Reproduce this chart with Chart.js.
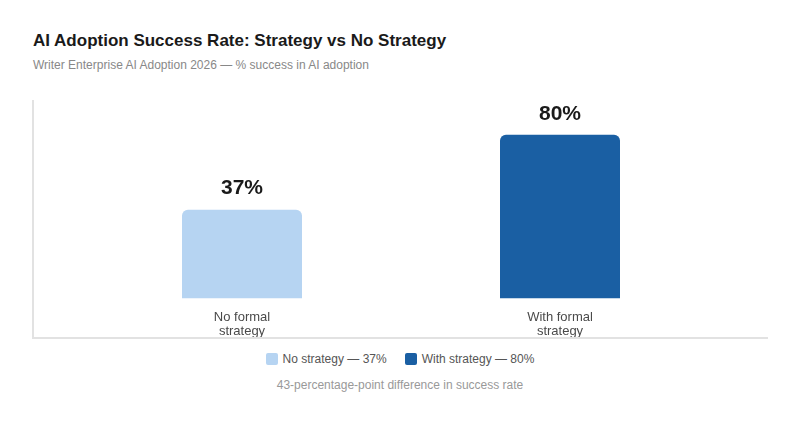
<!DOCTYPE html>
<html>
<head>
<meta charset="utf-8">
<script src="https://cdn.jsdelivr.net/npm/chart.js@4.4.1/dist/chart.umd.min.js"></script>
<style>
  html, body { margin: 0; padding: 0; background: #fff; }
  body { width: 800px; height: 440px; position: relative; font-family: "Liberation Sans", Arial, sans-serif; }
  #title { position: absolute; left: 33px; top: 31px; font-size: 17px; font-weight: bold; color: #1a1a1a; }
  #subtitle { position: absolute; left: 33px; top: 58px; font-size: 12px; color: #888; }
  #wrap { position: absolute; left: 32px; top: 100px; width: 734px; height: 237px;
          border-left: 2px solid #e2e2e2; border-bottom: 2px solid #e2e2e2; }
  #legend { position: absolute; left: 0; width: 800px; top: 352px; text-align: center; font-size: 12px; color: #555; }
  #legend span.item { display: inline-block; margin: 0 9px; }
  #legend i { display: inline-block; width: 12px; height: 12px; border-radius: 2px; vertical-align: -2px; margin-right: 5px; }
  #note { position: absolute; left: 0; width: 800px; top: 378px; text-align: center; font-size: 12px; color: #999; }
</style>
</head>
<body>
<div id="title">AI Adoption Success Rate: Strategy vs No Strategy</div>
<div id="subtitle">Writer Enterprise AI Adoption 2026 — % success in AI adoption</div>
<div id="wrap"><canvas id="chart"></canvas></div>
<div id="legend"></div>
<div id="note">43-percentage-point difference in success rate</div>
<script>
const categories = [["No formal", "strategy"], ["With formal", "strategy"]];
const successRates = [37, 80];
const barColors = ["#b6d4f2", "#1a5fa3"];
const legendLabels = ["No strategy — 37%", "With strategy — 80%"];

const legendEl = document.getElementById("legend");
legendEl.innerHTML = legendLabels.map((txt, i) =>
  `<span class="item"><i style="background:${barColors[i]}"></i>${txt}</span>`
).join("");

const valueLabels = {
  id: "valueLabels",
  afterDatasetsDraw(chart) {
    const ctx = chart.ctx;
    const meta = chart.getDatasetMeta(0);
    ctx.save();
    ctx.font = "bold 21px 'Liberation Sans', Arial, sans-serif";
    ctx.fillStyle = "#1a1a1a";
    ctx.textAlign = "center";
    ctx.textBaseline = "middle";
    meta.data.forEach((bar, i) => {
      ctx.fillText(successRates[i] + "%", bar.x, bar.y - 21);
    });
    ctx.restore();
  }
};

new Chart(document.getElementById("chart"), {
  type: "bar",
  data: {
    labels: categories,
    datasets: [{
      data: successRates,
      backgroundColor: barColors,
      borderRadius: 6,
      maxBarThickness: 120,
      base: -14
    }]
  },
  options: {
    responsive: true,
    maintainAspectRatio: false,
    animation: false,
    layout: { padding: { left: 49, right: 49, top: 0, bottom: -6 } },
    plugins: { legend: { display: false }, tooltip: { enabled: false } },
    scales: {
      x: {
        grid: { display: false, drawTicks: true, tickLength: 8 },
        border: { display: false },
        ticks: {
          color: "#4a4a4a",
          font: { family: "'Liberation Sans', Arial, sans-serif", size: 13, lineHeight: 1.1 },
          padding: 4
        }
      },
      y: { display: false, min: -14, max: 100 }
    }
  },
  plugins: [valueLabels]
});
</script>
</body>
</html>
